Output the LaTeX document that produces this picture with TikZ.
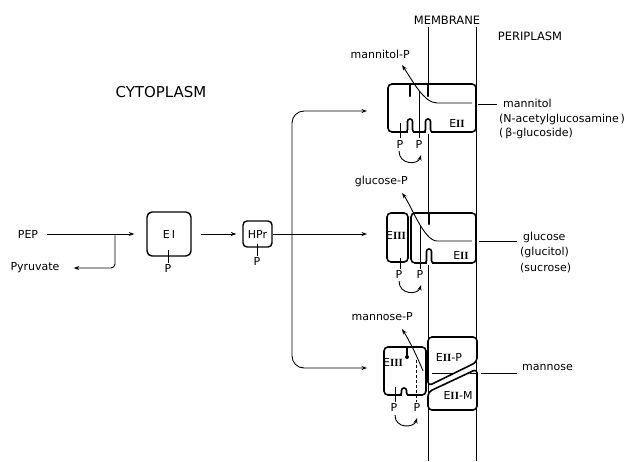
\documentclass[tikz,border=0pt]{standalone}
\usepackage{fontspec}
\setmainfont{DejaVu Sans}
\newfontfamily\rnfont{Liberation Serif}
\usetikzlibrary{arrows.meta,calc}
\newcommand{\rn}[1]{{\rnfont\bfseries #1}}
\newcommand{\bnotch}[3]{%
  \fill[white] ({#1-2.5},{#2-1.2}) rectangle ({#1+2.5},{#2+1.5});
  \draw[edge, rounded corners=2.4] ({#1-5},#2) -- ({#1-2.5},#2) -- ({#1-2.5},#3) -- ({#1+2.5},#3) -- ({#1+2.5},#2) -- ({#1+5},#2);}
\newcommand{\tspike}[3]{\draw[spike] (#1,#2) -- (#1,#3);}
\begin{document}
\begin{tikzpicture}[x=1pt,y=-1pt,
  lbl/.style={font=\fontsize{11}{13}\selectfont, inner sep=0pt},
  big/.style={font=\fontsize{15}{18}\selectfont, inner sep=0pt},
  head/.style={font=\fontsize{11.5}{13}\selectfont, inner sep=0pt},
  edge/.style={line width=1.6pt},
  box/.style={edge, fill=white},
  spike/.style={line width=2.4pt, line cap=round},
  thinl/.style={line width=0.6pt},
  mem/.style={line width=0.9pt},
  arr/.style={line width=0.9pt, -{Stealth[length=5.5pt,width=4pt]}},
  sbox/.style={draw, line width=1.4pt, rounded corners=5, fill=white, inner sep=0pt, font=\fontsize{11}{13}\selectfont}]
\useasboundingbox (0,0) rectangle (631,461);
\fill[white] (0,0) rectangle (631,461);

% headings
\node[big] (cyto) at (161,92) {CYTOPLASM};
\node[head] (memb) at (447,20.5) {MEMBRANE};
\node[head] (peri) at (530,36.5) {PERIPLASM};

% membrane
\coordinate (mlt) at (428,27); \coordinate (mlb) at (428,461);
\coordinate (mrt) at (476,27); \coordinate (mrb) at (476,461);
\draw[mem] (mlt) -- (mlb);
\draw[mem] (mrt) -- (mrb);

% ---------- left part ----------
\node[lbl] (pep) at (28,234) {PEP};
\node[lbl] (pyr) at (35,268) {Pyruvate};
\node[sbox, minimum width=44pt, minimum height=44pt] (ei) at (169,234) {E\,I};
\node[sbox, minimum width=29pt, minimum height=26pt, rounded corners=4] (hpr) at (257.5,234) {HPr};
\node[lbl] (eip) at (168,268) {P};
\node[lbl] (hprp) at (257,261) {P};
\draw[thinl] ($(ei.south)+(-1,-7)$) -- ($(eip.north)+(0,-1)$);
\draw[thinl] ($(hpr.south)+(-0.5,-4)$) -- ($(hprp.north)+(0,-1)$);

\draw[arr, shorten <=9pt, shorten >=12pt] (pep.east) -- (ei.west);
\coordinate (br) at (115,234);
\draw[arr, rounded corners=4, shorten >=14pt] (br) |- (pyr.east);
\draw[arr, shorten <=9pt, shorten >=6pt] (ei.east) -- (hpr.west);

\coordinate (t1) at (367,111);
\coordinate (t2) at (367,234);
\coordinate (t3) at (367,368);
\coordinate (jn) at (292,234);
\draw[arr] (hpr.east) -- (t2);
\draw[arr, rounded corners=12] (jn) |- (t1);
\draw[arr, rounded corners=12] (jn) |- (t3);

% ---------- complex 1 (mannitol) ----------
\draw[box, rounded corners=4] (388,84) rectangle (476,132);
\tspike{410}{85}{96}
\tspike{428}{85}{96}
\bnotch{410}{132}{119}
\bnotch{428}{132}{119}
\draw[arr] (472,103) -- (437,103) .. controls (424,103) and (412,80) .. (402,65);
\draw[thinl] (478,104) -- (497,104);
\draw[thinl] (400,123) -- (400,138);
\draw[thinl] (419,91) -- (419,138);
\node[lbl] (e2a) at (457,123) {E\rn{II}};
\node[lbl] (p1a) at (400,144) {P};
\node[lbl] (p1b) at (419,144) {P};
\draw[arr] ($(p1a)+(-1,7)$) .. controls +(0,14) and +(-3,10) .. ($(p1b)+(2,11)$);
\node[lbl, anchor=east] (mp) at (410,54) {mannitol-P};
\node[lbl, anchor=west] (mt1) at (503,103) {mannitol};
\node[lbl, anchor=west] (mt2) at (499,119) {(N-acetylglucosamine\,)};
\node[lbl, anchor=west] (mt3) at (499,133) {(\,β-glucoside)};

% ---------- complex 2 (glucose) ----------
\draw[box, rounded corners=4] (387,213) rectangle (408,262);
\draw[box, rounded corners=4] (411,213) rectangle (476,263);
\tspike{429}{214}{224}
\bnotch{429}{263}{249}
\draw[arr] (472,241) -- (437,241) .. controls (424,241) and (411,205) .. (402,193);
\draw[thinl] (479,241) -- (517,241);
\draw[thinl] (400,258) -- (400,269);
\draw[thinl] (420,226) -- (420,269);
\node[lbl] (e3b) at (396,235) {E\rn{III}};
\node[lbl] (e2b) at (461,255) {E\rn{II}};
\node[lbl] (p2a) at (399,274) {P};
\node[lbl] (p2b) at (420,274) {P};
\draw[arr] ($(p2a)+(0,7)$) .. controls +(0,14) and +(-3,10) .. ($(p2b)+(1,11)$);
\node[lbl, anchor=east] (gp) at (408,181) {glucose-P};
\node[lbl, anchor=west] (gl1) at (523,237) {glucose};
\node[lbl, anchor=west] (gl2) at (520,252) {(glucitol)};
\node[lbl, anchor=west] (gl3) at (520,268) {(sucrose)};

% ---------- complex 3 (mannose) ----------
\draw[box, rounded corners=4] (384,347) rectangle (426,395);
\tspike{407}{348}{356}
\fill (407,357) circle (2);
\bnotch{404}{395}{388}
\draw[box, rounded corners=4] (428,386) -- (428,337) -- (477,337) -- (477,362) -- cycle;
\draw[box, rounded corners=4] (428,392) -- (477,369) -- (477,410) -- (428,410) -- cycle;
\draw[arr] (423,371) .. controls (417,356) and (409,340) .. (402,329);
\draw[thinl, dash pattern=on 3pt off 2pt] (416,360) -- (416,402);
\draw[thinl] (395,387) -- (395,402);
\draw[thinl] (432,373) -- (453,373);
\draw[thinl] (470,373) -- (475.5,373);
\draw[thinl] (481,373) -- (517,373);
\node[lbl] (e3c) at (393,362) {E\rn{III}};
\node[lbl] (e2p) at (449,357) {E\rn{II}-P};
\node[lbl] (e2m) at (458,395) {E\rn{II}-M};
\node[lbl] (p3a) at (394,407) {P};
\node[lbl] (p3b) at (417,407) {P};
\draw[arr] ($(p3a)+(1,8)$) .. controls +(0,14) and +(-3,10) .. ($(p3b)+(0,11)$);
\node[lbl, anchor=east] (mnp) at (413,317) {mannose-P};
\node[lbl, anchor=west] (mn) at (522,367) {mannose};
\end{tikzpicture}
\end{document}
